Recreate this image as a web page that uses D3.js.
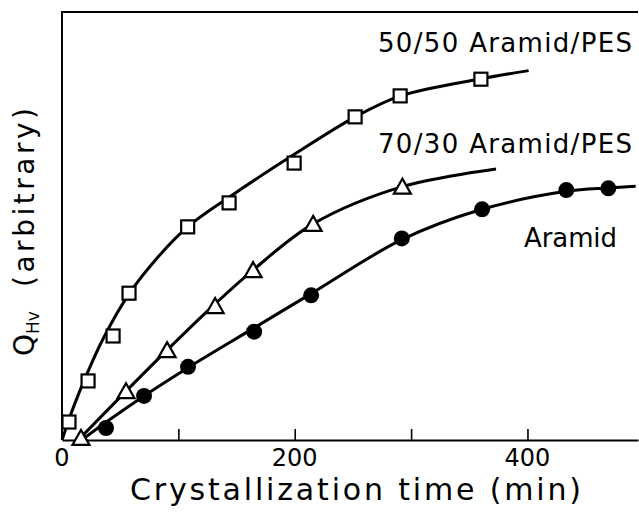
<!DOCTYPE html>
<html>
<head>
<meta charset="utf-8">
<script src="https://cdn.jsdelivr.net/npm/d3@7"></script>
<style>
  body { margin: 0; background: #fff; }
  svg { display: block; }
  text { font-family: 'DejaVu Sans', sans-serif; fill: #000; }
</style>
</head>
<body>
<div id="viz"></div>
<script>
const width = 639;
const height = 513;
const margin = {top: 12, right: 1, bottom: 73, left: 62};

// 50/50 Aramid/PES (open squares)
const sqTime = [6, 22.4, 43.9, 57.6, 108, 143.6, 199.5, 251.9, 290.6, 360];
const sqQ = [4.2, 13.8, 24.3, 34.3, 49.8, 55.4, 64.7, 75.5, 80.4, 84.3];
const sqFitTime = [0, 10, 22, 36, 58, 82, 108, 144, 200, 252, 291, 360, 401];
const sqFitQ = [0, 7.8, 15.8, 24.0, 34.3, 42.6, 49.8, 56.8, 66.8, 75.5, 80.4, 84.4, 86.3];

// 70/30 Aramid/PES (open triangles)
const triTime = [16.3, 55, 90.3, 131.6, 164.2, 215.8, 292.5];
const triQ = [0.5, 11.4, 21, 31.3, 39.7, 50.5, 59.2];
const triFitTime = [14, 55, 90.3, 131.6, 164.2, 215.8, 292.5, 373];
const triFitQ = [0, 11.4, 21, 31.8, 39.7, 50.5, 59.2, 63.3];

// Aramid (filled circles)
const circTime = [37.8, 70.5, 108.3, 165.1, 214.1, 292, 361, 433.4, 469.5];
const circQ = [2.8, 10.3, 17.1, 25.3, 33.8, 47.1, 53.9, 58.4, 58.8];
const circFitTime = [17, 38, 70.5, 108.3, 165.1, 214.1, 292, 361, 433.4, 469.5, 493];
const circFitQ = [0, 4.2, 10.3, 16.9, 26.2, 34.2, 46.8, 53.9, 58.1, 58.9, 59.3];

const tickValues = [100, 200, 300, 400];
const tickLabels = [0, 200, 400];

const zip = (xs, ys) => xs.map((t, i) => ({t: t, q: ys[i]}));

const svg = d3.select('#viz')
  .append('svg')
    .attr('width', width)
    .attr('height', height);

const xScale = d3.scaleLinear()
  .domain([0, 495])
  .range([margin.left, width - margin.right]);
const yScale = d3.scaleLinear()
  .domain([0, 100])
  .range([height - margin.bottom, margin.top]);

// frame: left and top lines
svg.append('path')
  .attr('d', `M${xScale(495)},${yScale(100)} H${xScale(0)} V${yScale(0)}`)
  .attr('fill', 'none')
  .attr('stroke', '#000')
  .attr('stroke-width', 2);

// bottom axis, ticks pointing inward
const xAxis = d3.axisBottom(xScale)
  .tickValues(tickValues)
  .tickSizeInner(-11)
  .tickSizeOuter(0)
  .tickFormat('');
const xAxisGroup = svg.append('g')
  .attr('transform', `translate(0, ${yScale(0)})`)
  .call(xAxis);
xAxisGroup.select('.domain').attr('stroke-width', 2.2);
xAxisGroup.selectAll('.tick line').attr('stroke-width', 1.6);

svg.selectAll('.tick-label')
  .data(tickLabels)
  .join('text')
    .attr('class', 'tick-label')
    .attr('x', d => xScale(d))
    .attr('y', 466)
    .attr('text-anchor', 'middle')
    .style('font-size', '24px')
    .text(d => d);

svg.append('text')
  .attr('x', 130)
  .attr('y', 500)
  .attr('textLength', 451)
  .attr('lengthAdjust', 'spacing')
  .style('font-size', '30px')
  .text('Crystallization time (min)');

// y label: Q with subscript Hv, then (arbitrary)
const yLabel = svg.append('text')
  .attr('transform', 'translate(34, 356) rotate(-90)')
  .style('font-size', '28px');
yLabel.append('tspan').text('Q');
yLabel.append('tspan').attr('dy', 5).style('font-size', '17px').text('Hv');

svg.append('text')
  .attr('transform', 'translate(34, 287) rotate(-90)')
  .attr('textLength', 179)
  .attr('lengthAdjust', 'spacing')
  .style('font-size', '28px')
  .text('(arbitrary)');

// fitted curves
const line = d3.line()
  .x(d => xScale(d.t))
  .y(d => yScale(d.q))
  .curve(d3.curveCatmullRom.alpha(0.5));

const fits = [
  zip(sqFitTime, sqFitQ),
  zip(triFitTime, triFitQ),
  zip(circFitTime, circFitQ)
];
svg.append('g')
  .selectAll('path')
  .data(fits)
  .join('path')
    .attr('d', line)
    .attr('fill', 'none')
    .attr('stroke', '#000')
    .attr('stroke-width', 3);

// markers
svg.append('g')
  .selectAll('rect')
  .data(zip(sqTime, sqQ))
  .join('rect')
    .attr('x', d => xScale(d.t) - 6.5)
    .attr('y', d => yScale(d.q) - 6.5)
    .attr('width', 13)
    .attr('height', 13)
    .attr('fill', '#fff')
    .attr('stroke', '#000')
    .attr('stroke-width', 2.2);

svg.append('g')
  .selectAll('path')
  .data(zip(triTime, triQ))
  .join('path')
    .attr('d', 'M0,-8 L8.5,7 L-8.5,7 Z')
    .attr('transform', d => `translate(${xScale(d.t)}, ${yScale(d.q)})`)
    .attr('fill', '#fff')
    .attr('stroke', '#000')
    .attr('stroke-width', 2.2)
    .attr('stroke-linejoin', 'miter');

svg.append('g')
  .selectAll('circle')
  .data(zip(circTime, circQ))
  .join('circle')
    .attr('cx', d => xScale(d.t))
    .attr('cy', d => yScale(d.q))
    .attr('r', 8)
    .attr('fill', '#000');

// series labels
const seriesLabels = [
  {text: '50/50 Aramid/PES', x: 378, y: 52, len: 254},
  {text: '70/30 Aramid/PES', x: 378, y: 153, len: 254},
  {text: 'Aramid', x: 524, y: 247, len: 93}
];
svg.selectAll('.series-label')
  .data(seriesLabels)
  .join('text')
    .attr('class', 'series-label')
    .attr('x', d => d.x)
    .attr('y', d => d.y)
    .attr('textLength', d => d.len)
    .attr('lengthAdjust', 'spacing')
    .style('font-size', '26px')
    .text(d => d.text);
</script>
</body>
</html>
